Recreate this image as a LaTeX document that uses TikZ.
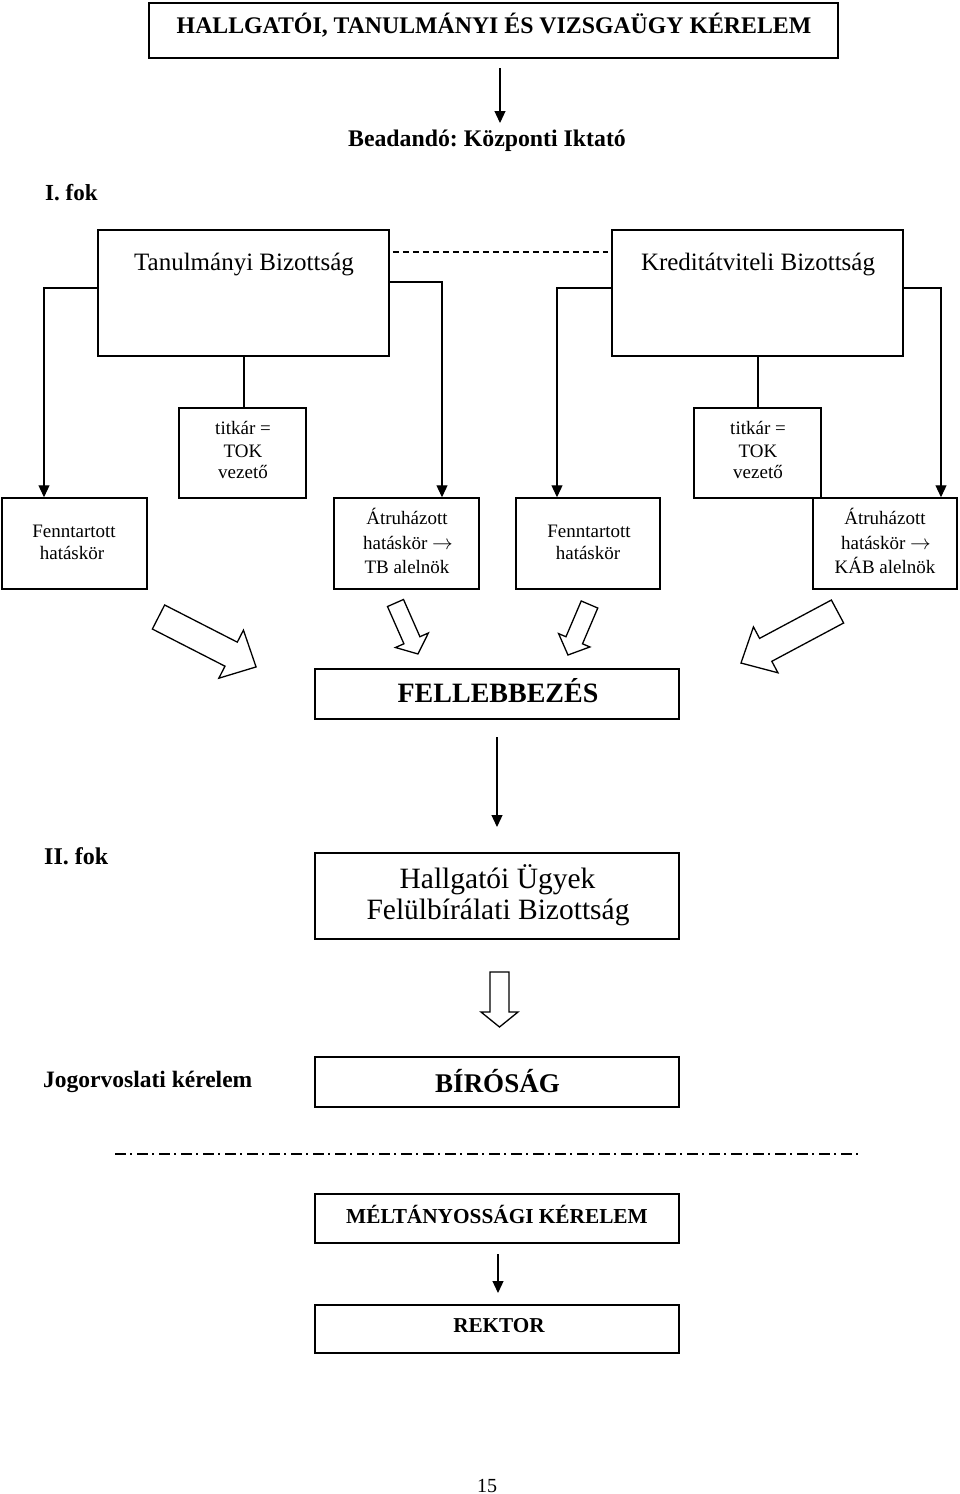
\documentclass[tikz,border=0pt]{standalone}
\usepackage{fontspec}
\setmainfont{Liberation Serif}
\usetikzlibrary{arrows.meta}
\frenchspacing
\newcommand\hollowarrow[7]{% x, y, rotation, length, shaft width, head width, head length
  \draw[harrow, shift={(#1,#2)}, rotate=#3]
    (0,{-#5/2}) -- ({#4-#7},{-#5/2}) -- ({#4-#7},{-#6/2}) -- (#4,0)
    -- ({#4-#7},{#6/2}) -- ({#4-#7},{#5/2}) -- (0,{#5/2}) -- cycle;}
\newcommand\myarrowsym{\fontsize{21}{21}\selectfont$\rightarrow$}
\begin{document}
\begin{tikzpicture}[x=1pt,y=-1pt,
  box/.style={draw, line width=1.5pt, inner sep=0pt},
  conn/.style={line width=1.2pt},
  arr/.style={conn, -{Triangle[length=12pt,width=11pt]}},
  harrow/.style={line width=1.3pt, line join=miter},
  lbl/.style={inner sep=0pt, anchor=base},
  lblw/.style={inner sep=0pt, anchor=base west},
  small/.style={font=\fontsize{19}{21}\selectfont}
]
\fill[white] (0,0) rectangle (960,1494);
\path[use as bounding box] (0,0) rectangle (960,1494);

% boxes
\node[box, minimum width=689pt, minimum height=55pt] (title) at (493.5,30.5) {};
\node[box, minimum width=291pt, minimum height=126pt] (tb) at (243.5,293) {};
\node[box, minimum width=291pt, minimum height=126pt] (kb) at (757.5,293) {};
\node[box, minimum width=127pt, minimum height=90pt] (tit1) at (242.5,453) {};
\node[box, minimum width=127pt, minimum height=90pt] (tit2) at (757.5,453) {};
\node[box, minimum width=145pt, minimum height=91pt] (fen1) at (74.5,543.5) {};
\node[box, minimum width=145pt, minimum height=91pt] (atr1) at (406.5,543.5) {};
\node[box, minimum width=144pt, minimum height=91pt] (fen2) at (588,543.5) {};
\node[box, minimum width=144pt, minimum height=91pt] (atr2) at (885,543.5) {};
\node[box, minimum width=364pt, minimum height=50pt] (fel) at (497,694) {};
\node[box, minimum width=364pt, minimum height=86pt] (hub) at (497,896) {};
\node[box, minimum width=364pt, minimum height=50pt] (bir) at (497,1082) {};
\node[box, minimum width=364pt, minimum height=49pt] (mel) at (497,1218.5) {};
\node[box, minimum width=364pt, minimum height=48pt] (rek) at (497,1329) {};

% texts
\node[lbl, font=\fontsize{23.8}{26}\selectfont\bfseries] (t0) at (494,33) {HALLGATÓI, TANULMÁNYI ÉS VIZSGAÜGY KÉRELEM};
\node[lbl, font=\fontsize{23.8}{26}\selectfont\bfseries] (bead) at (487,146) {Beadandó: Központi Iktató};
\node[lblw, font=\fontsize{23}{26}\selectfont\bfseries] (fok1) at (45,200) {I. fok};
\node[lbl, font=\fontsize{25}{28}\selectfont] (tbt) at (244,270) {Tanulmányi Bizottság};
\node[lbl, font=\fontsize{25}{28}\selectfont] (kbt) at (758,270) {Kreditátviteli Bizottság};

\node[lbl, small] (ta1) at (243,434) {titkár =};
\node[lbl, small] (ta2) at (243,457) {TOK};
\node[lbl, small] (ta3) at (243,478) {vezető};
\node[lbl, small] (tb1) at (758,434) {titkár =};
\node[lbl, small] (tb2) at (758,457) {TOK};
\node[lbl, small] (tb3) at (758,478) {vezető};

\node[lbl, small] (fa1) at (74,537) {Fenntartott};
\node[lbl, small] (fa2) at (72,559) {hatáskör};
\node[lbl, small] (fb1) at (589,537) {Fenntartott};
\node[lbl, small] (fb2) at (588,559) {hatáskör};

\node[lbl, small] (aa1) at (407,524) {Átruházott};
\node[lbl, small] (aa2) at (408,549) {hatáskör \myarrowsym};
\node[lbl, small] (aa3) at (407,573) {TB alelnök};
\node[lbl, small] (ab1) at (885,524) {Átruházott};
\node[lbl, small] (ab2) at (886,549) {hatáskör \myarrowsym};
\node[lbl, small] (ab3) at (885,573) {KÁB alelnök};

\node[lbl, font=\fontsize{28}{30}\selectfont\bfseries] (felt) at (498,702) {FELLEBBEZÉS};
\node[lblw, font=\fontsize{24}{26}\selectfont\bfseries] (fok2) at (44,864) {II. fok};
\node[lbl, font=\fontsize{29.5}{32}\selectfont] (hu1) at (497.5,888) {Hallgatói Ügyek};
\node[lbl, font=\fontsize{29.5}{32}\selectfont] (hu2) at (498,919) {Felülbírálati Bizottság};
\node[lblw, font=\fontsize{23.5}{26}\selectfont\bfseries] (jog) at (43,1087) {Jogorvoslati kérelem};
\node[lbl, font=\fontsize{27}{30}\selectfont\bfseries] (birt) at (497.5,1092) {BÍRÓSÁG};
\node[lbl, font=\fontsize{21.3}{24}\selectfont\bfseries] (melt) at (497,1223) {MÉLTÁNYOSSÁGI KÉRELEM};
\node[lbl, font=\fontsize{21.2}{24}\selectfont\bfseries] (rekt) at (499,1332) {REKTOR};
\node[lbl, font=\fontsize{20}{22}\selectfont] (page) at (487,1492) {15};

% connector coordinates
\coordinate (a0s) at (500,68);
\coordinate (a0e) at (500,123);
\coordinate (tbL) at (44,288);
\coordinate (tbR) at (442,282);
\coordinate (tbM) at (244,300);
\coordinate (kbL) at (557,288);
\coordinate (kbR) at (941,288);
\coordinate (kbM) at (758,300);
\coordinate (dsh) at (400,252);
\coordinate (a1s) at (497,737);
\coordinate (a1e) at (497,827);
\coordinate (a2s) at (498,1254);
\coordinate (a2e) at (498,1293);
\coordinate (dd1) at (115,1154);
\coordinate (dd2) at (860,1154);

% connectors
\draw[arr] (a0s) -- (a0e);
\draw[arr] (tb.west |- tbL) -- (tbL) -- (fen1.north -| tbL);
\draw[arr] (tb.east |- tbR) -- (tbR) -- (atr1.north -| tbR);
\draw[conn] (tb.south -| tbM) -- (tit1.north -| tbM);
\draw[arr] (kb.west |- kbL) -- (kbL) -- (fen2.north -| kbL);
\draw[arr] (kb.east |- kbR) -- (kbR) -- (atr2.north -| kbR);
\draw[conn] (kb.south -| kbM) -- (tit2.north -| kbM);
\draw[line width=1.3pt, dash pattern=on 6pt off 4pt] ([xshift=3pt]tb.east |- dsh) -- ([xshift=-3pt]kb.west |- dsh);
\draw[arr] (a1s) -- (a1e);
\draw[arr] (a2s) -- (a2e);
\draw[line width=2pt, dash pattern=on 11pt off 4pt on 2pt off 5pt] (dd1) -- (dd2);

% hollow block arrows
\hollowarrow{158.5}{617}{-27.1}{109.6}{27}{54}{28}
\hollowarrow{395.5}{603}{-66.2}{55.7}{17.5}{36}{15}
\hollowarrow{589.5}{604.5}{-113.1}{54.9}{18}{34}{16}
\hollowarrow{837.5}{611.5}{-151.9}{109.4}{26}{52}{28}
\hollowarrow{499.5}{972}{-90}{55}{19}{37}{15}
\end{tikzpicture}
\end{document}
